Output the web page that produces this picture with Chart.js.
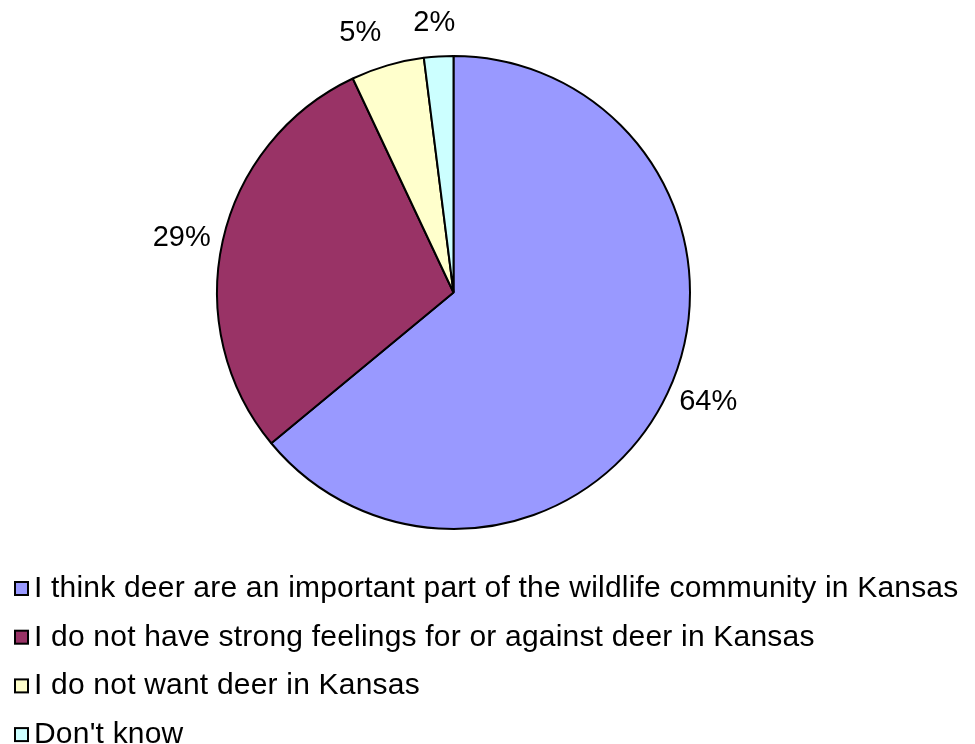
<!DOCTYPE html>
<html>
<head>
<meta charset="utf-8">
<script src="https://cdn.jsdelivr.net/npm/chart.js@4.4.1/dist/chart.umd.min.js"></script>
<style>
  html, body { margin: 0; padding: 0; background: #fff; }
  #wrap { width: 975px; height: 744px; }
</style>
</head>
<body>
<div id="wrap"><canvas id="pieChart"></canvas></div>
<script>
const categories = [
    "I think deer are an important part of the wildlife community in Kansas",
    "I do not have strong feelings for or against deer in Kansas",
    "I do not want deer in Kansas",
    "Don't know"
];
const shares = [64, 29, 5, 2];
const sliceColors = ["#9999ff", "#993366", "#ffffcc", "#ccffff"];

const FONT = "'Liberation Sans', Arial, Helvetica, sans-serif";

// small hand nudges so the % labels sit where the original put them
const labelNudge = [[0, -3], [3, 3], [-17, -6], [-2, -7]];

// percent labels outside the pie + the stacked legend underneath
const pieExtras = {
    id: "pieExtras",
    afterDatasetsDraw(chart) {
        const ctx = chart.ctx;
        const meta = chart.getDatasetMeta(0);
        ctx.save();
        ctx.fillStyle = "#000";
        ctx.font = "29px " + FONT;
        ctx.textAlign = "center";
        ctx.textBaseline = "middle";
        meta.data.forEach((arc, i) => {
            const p = arc.getProps(["x", "y", "startAngle", "endAngle", "outerRadius"], true);
            const mid = (p.startAngle + p.endAngle) / 2;
            const txt = shares[i] + "%";
            const halfW = ctx.measureText(txt).width / 2;
            const cos = Math.cos(mid), sin = Math.sin(mid);
            const r = p.outerRadius + 16;
            const x = p.x + cos * r + cos * halfW + labelNudge[i][0];
            const y = p.y + sin * r + sin * 11 + labelNudge[i][1];
            ctx.fillText(txt, x, y);
        });

        // legend
        ctx.font = "30px " + FONT;
        ctx.letterSpacing = "0.2px";
        ctx.textAlign = "left";
        ctx.textBaseline = "alphabetic";
        categories.forEach((label, i) => {
            const base = 597 + i * 48.7;
            ctx.fillStyle = sliceColors[i];
            ctx.fillRect(15, base - 15, 13, 13);
            ctx.strokeStyle = "#000";
            ctx.lineWidth = 2;
            ctx.strokeRect(15, base - 15, 13, 13);
            ctx.fillStyle = "#000";
            ctx.fillText(label, 34, base);
        });
        ctx.restore();
    }
};

const chart = new Chart(document.getElementById("pieChart"), {
    type: "pie",
    data: {
        labels: categories,
        datasets: [{
            data: shares,
            backgroundColor: sliceColors,
            borderColor: "#000",
            borderWidth: 2,
            radius: 236.5
        }]
    },
    options: {
        responsive: true,
        maintainAspectRatio: false,
        animation: false,
        layout: {
            padding: { left: 216, right: 284, top: 56, bottom: 215 }
        },
        plugins: {
            legend: { display: false },
            tooltip: { enabled: false }
        }
    },
    plugins: [pieExtras]
});
</script>
</body>
</html>
